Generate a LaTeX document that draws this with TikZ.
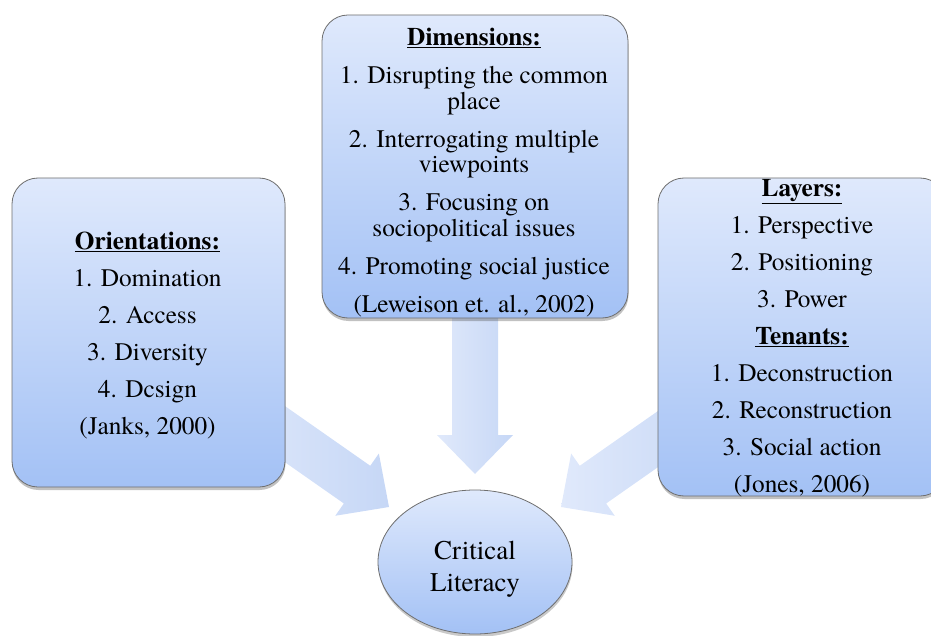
\documentclass[tikz,border=0pt]{standalone}
\usepackage{fontspec}
\IfFontExistsTF{texgyretermes-regular.otf}
  {\setmainfont{texgyretermes}[Extension=.otf, UprightFont=*-regular, BoldFont=*-bold, ItalicFont=*-italic, BoldItalicFont=*-bolditalic]}
  {\setmainfont{Liberation Serif}}
\usetikzlibrary{shapes.geometric,shadows}
\definecolor{boxtop}{RGB}{223,233,252}
\definecolor{boxbot}{RGB}{163,193,245}
\definecolor{boxborder}{RGB}{110,110,110}
\definecolor{arrowA}{RGB}{224,233,251}
\definecolor{arrowB}{RGB}{198,215,246}
\begin{document}
\begin{tikzpicture}[x=1pt,y=-1pt,
  infobox/.style={draw=boxborder, line width=0.8pt, rounded corners=26pt,
    top color=boxtop, bottom color=boxbot, inner sep=0pt,
    drop shadow={shadow xshift=0.5pt, shadow yshift=-3pt, opacity=0.35, fill=black!70}},
  boxtext/.style={align=center, inner sep=0pt, font=\fontsize{25.3}{26.5}\selectfont},
  blockarrow/.style={left color=arrowA, right color=arrowB, draw=none}]
\useasboundingbox (0,0) rectangle (931,636);

% block arrows (behind the boxes)
\coordinate (tipL) at (389,507);
\coordinate (tipM) at (475,474);
\coordinate (tipR) at (561,507);
\begin{scope}[shift={(tipL)}, rotate=-35]
  \path[blockarrow] (0,0) -- (-39,38) -- (-39,23) -- (-189,23) -- (-189,-23) -- (-39,-23) -- (-39,-38) -- cycle;
\end{scope}
\begin{scope}[shift={(tipM)}, rotate=-90]
  \path[blockarrow] (0,0) -- (-39,38) -- (-39,23) -- (-174,23) -- (-174,-23) -- (-39,-23) -- (-39,-38) -- cycle;
\end{scope}
\begin{scope}[shift={(tipR)}, rotate=-145]
  \path[blockarrow] (0,0) -- (-39,38) -- (-39,23) -- (-189,23) -- (-189,-23) -- (-39,-23) -- (-39,-38) -- cycle;
\end{scope}

% boxes
\node[infobox, minimum width=273pt, minimum height=309pt] (orient) at (148.5,332.5) {};
\node[infobox, minimum width=306pt, minimum height=303pt] (dim) at (475,166.5) {};
\node[infobox, minimum width=288pt, minimum height=318pt] (layers) at (802,337) {};
\node[ellipse, draw=boxborder, line width=0.8pt, top color=boxtop, bottom color=boxbot,
      minimum width=194pt, minimum height=144pt, inner sep=0pt,
      drop shadow={shadow xshift=0.5pt, shadow yshift=-3pt, opacity=0.3, fill=black!70}]
  (cl) at (475,562) {};

% texts
\node[boxtext] (orientT) at (147.5,335)
  {\underline{\textbf{Orientations:}}\\[10.5pt]
   1. Domination\\[10.5pt]
   2. Access\\[10.5pt]
   3. Diversity\\[10.5pt]
   4. Dcsign\\[10.5pt]
   (Janks, 2000)};

\node[boxtext, font=\fontsize{25.3}{25.5}\selectfont] (dimT) at (474,172.5)
  {\underline{\textbf{Dimensions:}}\\[12.5pt]
   1. Disrupting the common\\
   place\\[12.5pt]
   2. Interrogating multiple\\
   viewpoints\\[12.5pt]
   3. Focusing on\\
   sociopolitical issues\\[12.5pt]
   4. Promoting social justice\\[12.5pt]
   (Leweison et. al., 2002)};

\node[boxtext] (layersT) at (802,338.5)
  {\underline{\textbf{Layers:}}\\[10.5pt]
   1. Perspective\\[10.5pt]
   2. Positioning\\[10.5pt]
   3. Power\\[10.5pt]
   \underline{\textbf{Tenants:}}\\[10.5pt]
   1. Deconstruction\\[10.5pt]
   2. Reconstruction\\[10.5pt]
   3. Social action\\[10.5pt]
   (Jones, 2006)};

\node[align=center, inner sep=0pt, font=\fontsize{27}{32}\selectfont] (clT) at (475,569)
  {Critical\\Literacy};
\end{tikzpicture}
\end{document}
